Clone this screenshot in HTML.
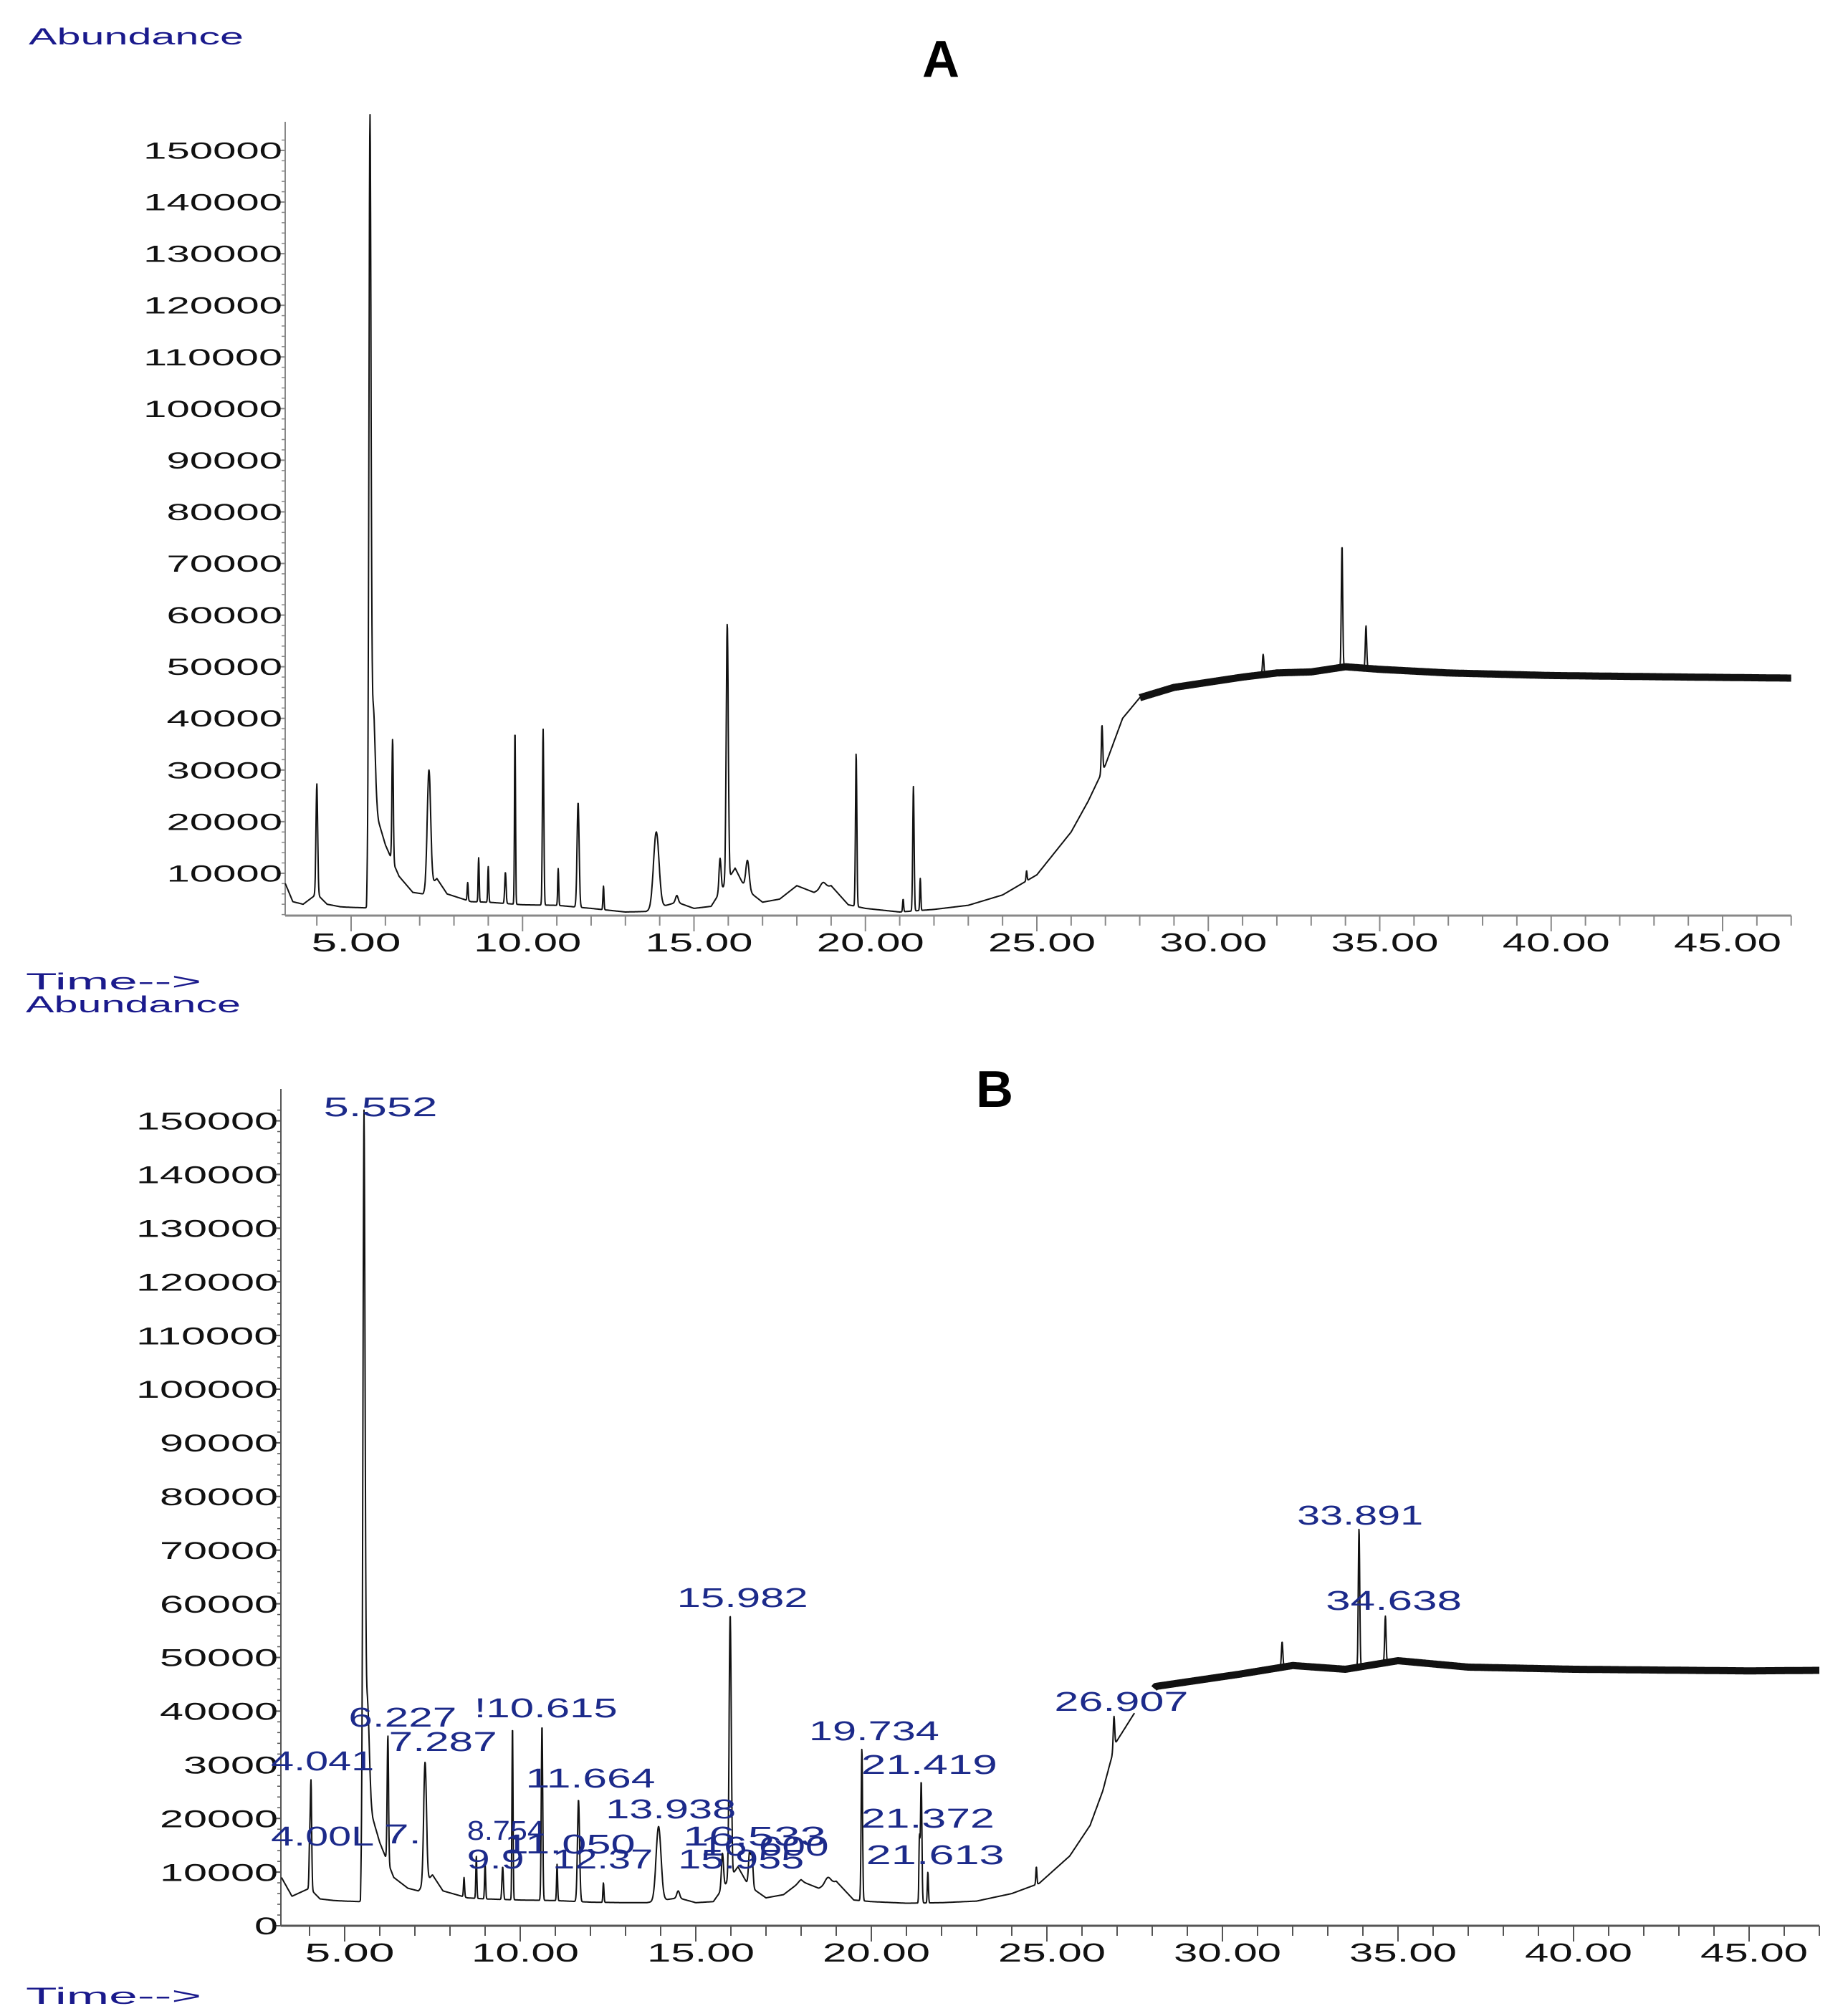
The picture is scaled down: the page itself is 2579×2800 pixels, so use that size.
<!DOCTYPE html>
<html><head><meta charset="utf-8"><title>Chromatograms A and B</title>
<style>html,body{margin:0;padding:0;background:#fff}svg{display:block}</style></head>
<body>
<svg id="chart" xmlns="http://www.w3.org/2000/svg" width="2579" height="2800" viewBox="0 0 2579 2800" font-family="Liberation Sans, sans-serif">
<rect width="2579" height="2800" fill="#fff"/>
<text x="40" y="62" font-size="32" fill="#1a1a8c" textLength="300" lengthAdjust="spacingAndGlyphs">Abundance</text>
<text x="1313" y="107" font-size="72" font-weight="bold" text-anchor="middle">A</text>
<text x="36" y="1381" font-size="32" fill="#1a1a8c" textLength="245" lengthAdjust="spacingAndGlyphs">Time--&gt;</text>
<text x="36" y="1413" font-size="32" fill="#1a1a8c" textLength="300" lengthAdjust="spacingAndGlyphs">Abundance</text>
<text x="1388" y="1545" font-size="72" font-weight="bold" text-anchor="middle">B</text>
<text x="36" y="2797" font-size="32" fill="#1a1a8c" textLength="245" lengthAdjust="spacingAndGlyphs">Time--&gt;</text>
<g id="gA"></g>
<g id="gB"></g>
</svg>
<script>
// ---- data: panel A ----
const baseTimesA = [3.05,3.3,3.6,4.0,4.3,4.7,5.0,5.45,5.55,5.8,6.0,6.4,6.8,7.1,7.5,7.8,8.5,9,10,11,12,13,13.6,14.5,15,15.5,16.2,16.5,17,17.5,18,18.5,19,19.5,20,21,22,23,24,25,26,26.5,27,27.5,28,29,30,31,32,33,34,35,37,40,44,47];
const baseValsA  = [8500,4500,4000,6000,4000,3500,3400,3300,30000,20000,15500,9400,6300,6000,9000,6000,4500,4400,3900,3800,3200,2500,2600,4400,3200,3600,11000,7000,4400,5000,7600,6300,7600,3900,3200,2500,3000,3800,5800,9700,18000,24000,31000,40000,44000,46000,47000,48000,48800,49000,50000,49500,48800,48300,48000,47800];
const peakTimesA = [4.0,5.55,5.65,6.21,7.27,8.4,8.72,9.0,9.5,9.78,10.6,11.04,11.62,12.36,13.9,14.5,15.76,15.97,16.56,17.98,18.76,19.73,21.1,21.4,21.6,24.7,26.9,31.6,33.9,34.6];
const peakApexA  = [27300,155000,42000,36000,30000,8200,13000,11300,10200,37900,37900,10900,23700,7500,18000,5700,12900,58300,12500,7500,8200,33200,5000,26800,9000,10500,38700,52400,73500,57900];
const peakWidthA = [0.025,0.03,0.05,0.02,0.05,0.015,0.015,0.015,0.02,0.015,0.02,0.015,0.03,0.015,0.08,0.04,0.03,0.03,0.05,0.06,0.08,0.02,0.015,0.02,0.015,0.015,0.02,0.02,0.02,0.02];
// ---- data: panel B ----
const baseTimesB = [3.2,3.5,4.0,4.3,4.7,5.0,5.45,5.55,5.8,6.0,6.4,6.8,7.1,7.5,7.8,8.5,9,10,11,12,13,13.6,14.5,15,15.5,16.2,16.5,17,17.5,18,18.5,19,19.5,20,21,22,23,24,24.78,25.65,26.23,26.59,26.95,27.47,28.1,30.5,32,33.5,35,37,40,45,47];
const baseValsB  = [9000,5500,7000,5000,4700,4600,4500,30000,20000,15500,9000,7000,6500,9500,6500,5200,5000,4800,4700,4400,4300,4300,5200,4300,4500,11000,7500,5200,5800,8300,7000,8300,4800,4500,4200,4300,4600,6000,7900,13000,18700,25100,34000,39400,44600,46900,48500,47800,49400,48200,47800,47500,47600];
const gapB = [27.5, 28.05];
const peakTimesB = [4.0,4.04,5.55,5.65,6.23,7.29,8.4,8.75,9.0,9.5,9.78,10.62,11.05,11.66,12.37,13.94,14.5,15.76,15.98,16.53,16.6,17.98,18.76,19.73,21.37,21.42,21.61,24.7,26.91,31.7,33.89,34.64];
const peakApexB  = [14000,27000,150000,42000,35500,30500,9000,13000,11500,11000,37500,37500,11500,23500,8000,18500,6500,13500,58000,13500,13000,8500,9000,33000,16000,27000,10000,11000,39000,52900,74000,57700];
const peakWidthB = [0.015,0.02,0.03,0.05,0.02,0.04,0.015,0.015,0.015,0.02,0.015,0.02,0.015,0.03,0.015,0.07,0.04,0.03,0.03,0.03,0.03,0.06,0.08,0.02,0.015,0.02,0.015,0.015,0.02,0.02,0.02,0.02];
const peakLabelTextB = ["5.552","15.982","6.227","!10.615","7.287","4.041","19.734","21.419","11.664","13.938","21.372","4.00L","7.","8.754","11.050","9.9","12.37","15.955","16.533","16.600","21.613","26.907","33.891","34.638"];
const peakLabelTimeB = [6.02,16.33,6.65,10.73,7.80,4.37,20.08,21.65,12.0,14.29,21.61,4.37,6.65,9.59,11.41,9.3,12.35,16.29,16.67,16.96,21.82,27.12,33.92,34.88];
const peakLabelValB  = [152600,61150,38850,40590,34310,30700,36300,30040,27500,21760,20030,16690,17090,17760,15220,12420,12420,12420,16690,14820,13220,41790,76500,60610];
const labelWidthB    = [159,183,151,200,151,144,182,190,181,182,186,144,52,108,183,80,140,176,200,179,193,187,176,190];
const yTicksA = [10000,20000,30000,40000,50000,60000,70000,80000,90000,100000,110000,120000,130000,140000,150000];
const yTickLabelsA = ["10000","20000","30000","40000","50000","60000","70000","80000","90000","100000","110000","120000","130000","140000","150000"];
const yTicksB = [0,10000,20000,30000,40000,50000,60000,70000,80000,90000,100000,110000,120000,130000,140000,150000];
const yTickLabelsB = ["0","10000","20000","3000","40000","50000","60000","70000","80000","90000","100000","110000","120000","130000","140000","150000"];
const xTicks = [5,10,15,20,25,30,35,40,45];
const xTickLabels = ["5.00","10.00","15.00","20.00","25.00","30.00","35.00","40.00","45.00"];

const NS = "http://www.w3.org/2000/svg";
function mk(tag, attrs, parent){const e=document.createElementNS(NS,tag);for(const k in attrs)e.setAttribute(k,attrs[k]);parent.appendChild(e);return e;}
function interp(ts,vs,t){if(t<=ts[0])return vs[0];for(let i=1;i<ts.length;i++){if(t<=ts[i]){const f=(t-ts[i-1])/(ts[i]-ts[i-1]);return vs[i-1]+f*(vs[i]-vs[i-1]);}}return vs[vs.length-1];}
function signal(bt,bv,pt,pa,pw,t){let b=interp(bt,bv,t),s=b;for(let i=0;i<pt.length;i++){const d=(t-pt[i])/pw[i];if(Math.abs(d)<6){s+=Math.max(0,pa[i]-interp(bt,bv,pt[i]))*Math.exp(-0.5*d*d);}}return s;}

function panel(g, cfg){
  const X=t=>cfg.x5+(t-5)*cfg.ppm, Y=v=>cfg.y0-v*cfg.ppv;
  const ya=mk('line',{x1:cfg.axX,y1:cfg.axTop,x2:cfg.axX,y2:cfg.axY,stroke:cfg.axCol,'stroke-width':2},g);
  
  
  const xa=mk('line',{x1:cfg.axX,y1:cfg.axY,x2:X(cfg.tEnd),y2:cfg.axY,stroke:cfg.axCol,'stroke-width':3},g);
  
  
  for(let v=2000;v<=cfg.vTop;v+=2000){const yy=Y(v);if(yy>cfg.axY||yy<cfg.axTop)continue;const m=mk('line',{x1:cfg.axX-5,y1:yy,x2:cfg.axX,y2:yy,stroke:cfg.axCol,'stroke-width':1.5},g);
    
    }
  cfg.yt.forEach((v,i)=>{const yy=Y(v);const lab=cfg.ytl[i];
    const tk=mk('line',{x1:cfg.axX-9,y1:yy,x2:cfg.axX,y2:yy,stroke:cfg.axCol,'stroke-width':2},g);
    
    
    const tx=mk('text',{x:cfg.axX-4,y:yy+cfg.yfs*0.36,'font-size':cfg.yfs,'text-anchor':'end',fill:'#111',textLength:lab.length*cfg.cw,lengthAdjust:'spacingAndGlyphs'},g);tx.textContent=lab;
    
    });
  for(let t=Math.ceil(cfg.tStart);t<=cfg.tEnd;t++){const L=(t%5===0)?22:14;const m=mk('line',{x1:X(t),y1:cfg.axY,x2:X(t),y2:cfg.axY+L,stroke:cfg.axCol,'stroke-width':2},g);
    
    }
  xTicks.forEach((t,i)=>{const lab=xTickLabels[i];const tx=mk('text',{x:X(t)+7,y:cfg.xly,'font-size':36,'text-anchor':'middle',fill:'#111',textLength:lab.length===4?125:150,lengthAdjust:'spacingAndGlyphs'},g);tx.textContent=lab;
    
    });
  let d1='',d2='',pen1=false,pen2=false;
  for(let t=cfg.tStart;t<=cfg.tEnd+1e-9;t+=0.008){
    if(cfg.gap && t>cfg.gap[0] && t<cfg.gap[1]){pen1=false;pen2=false;continue;}
    const v=signal(cfg.bt,cfg.bv,cfg.pt,cfg.pa,cfg.pw,t);
    const px=X(t).toFixed(1),py=Math.max(cfg.axTop-10,Y(v)).toFixed(1);
    d1+=(pen1?'L':'M')+px+' '+py;pen1=true;
    if(t>=28){const pb=Y(interp(cfg.bt,cfg.bv,t)).toFixed(1);d2+=(pen2?'L':'M')+px+' '+pb;pen2=true;}
  }
  const p2=mk('path',{d:d2,fill:'none',stroke:'#111','stroke-width':10,'stroke-linejoin':'round'},g);
  
  
  const p1=mk('path',{d:d1,fill:'none',stroke:'#111','stroke-width':2,'stroke-linejoin':'round'},g);
  
  
  return {X,Y};
}

const A=panel(document.getElementById('gA'),{x5:490,ppm:47.85,y0:1291,ppv:72.07/10000,axX:398,axY:1278,axTop:170,vTop:152000,
  tStart:3.08,tEnd:47,axCol:'#888',yt:yTicksA,ytl:yTickLabelsA,yfs:32,cw:32.3,xly:1328,
  bt:baseTimesA,bv:baseValsA,pt:peakTimesA,pa:peakApexA,pw:peakWidthA});
const gB=document.getElementById('gB');
const B=panel(gB,{x5:481,ppm:49.0,y0:2688,ppv:74.9/10000,axX:392,axY:2688,axTop:1520,vTop:152000,
  tStart:3.2,tEnd:47,axCol:'#555',yt:yTicksB,ytl:yTickLabelsB,yfs:34,cw:33,xly:2738,gap:gapB,
  bt:baseTimesB,bv:baseValsB,pt:peakTimesB,pa:peakApexB,pw:peakWidthB});
peakLabelTextB.forEach((s,i)=>{
  const tx=document.createElementNS(NS,'text');
  tx.setAttribute('x',B.X(peakLabelTimeB[i]));
  tx.setAttribute('y',B.Y(peakLabelValB[i])+13);
  tx.setAttribute('font-size',38);
  tx.setAttribute('text-anchor','middle');
  tx.setAttribute('fill','#1c2a8a');
  tx.setAttribute('textLength',labelWidthB[i]);
  tx.setAttribute('lengthAdjust','spacingAndGlyphs');
  tx.textContent=s;
  
  
  gB.appendChild(tx);
});
</script>
</body></html>
